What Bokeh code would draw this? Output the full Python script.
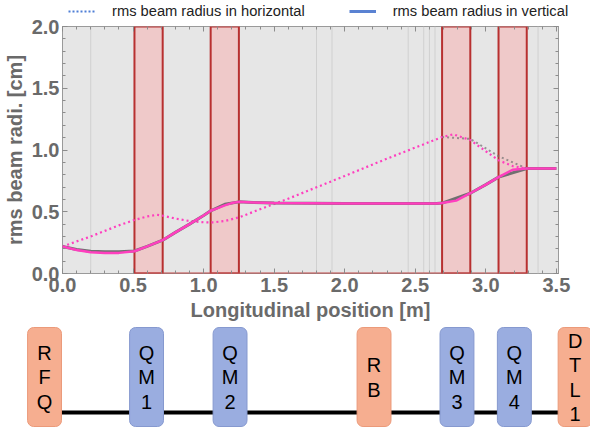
import numpy as np
from bokeh.plotting import figure
from bokeh.models import Range1d, LinearAxis, Legend, LegendItem, FixedTicker, ColumnDataSource
from bokeh.core.properties import value
from bokeh.layouts import column, row
from bokeh.embed import file_html
from bokeh.resources import INLINE

# ---------------- data ----------------
# rms beam radius in vertical (solid, pink)
x_v = [0.0, 0.1, 0.2, 0.3, 0.4, 0.51, 0.6, 0.71, 0.8, 0.9, 1.0, 1.05, 1.1, 1.15, 1.2, 1.25, 1.35, 1.5,
       2.0, 2.5, 2.65, 2.69, 2.79, 2.89, 3.0, 3.09, 3.19, 3.29, 3.5]
y_v = [0.218, 0.19, 0.172, 0.166, 0.167, 0.18, 0.22, 0.27, 0.333, 0.40, 0.47, 0.508, 0.53, 0.552, 0.57,
       0.58, 0.575, 0.57, 0.567, 0.567, 0.567, 0.57, 0.59, 0.65, 0.72, 0.78, 0.84, 0.85, 0.85]
# underlying grey curve (solid)
x_g = [0.0, 0.1, 0.2, 0.3, 0.4, 0.51, 0.6, 0.71, 0.8, 0.9, 1.0, 1.05, 1.15, 1.25, 1.35, 1.5,
       2.0, 2.5, 2.65, 2.69, 2.89, 3.0, 3.09, 3.29, 3.5]
y_g = [0.218, 0.195, 0.18, 0.176, 0.176, 0.182, 0.22, 0.27, 0.333, 0.40, 0.47, 0.508, 0.56, 0.58,
       0.575, 0.57, 0.567, 0.567, 0.567, 0.57, 0.65, 0.72, 0.78, 0.85, 0.85]
# rms beam radius in horizontal (dotted, pink)
x_h = [0.0, 0.1, 0.2, 0.3, 0.4, 0.51, 0.6, 0.67, 0.71, 0.8, 0.9, 1.0, 1.07, 1.15, 1.25, 1.4, 1.62,
       2.0, 2.3, 2.69, 2.77, 2.89, 3.0, 3.09, 3.19, 3.29]
y_h = [0.218, 0.26, 0.30, 0.345, 0.39, 0.433, 0.462, 0.476, 0.468, 0.445, 0.425, 0.415, 0.414, 0.425,
       0.454, 0.52, 0.615, 0.79, 0.93, 1.105, 1.127, 1.08, 0.99, 0.917, 0.87, 0.85]
# underlying grey dotted curve
x_hg = [2.69, 2.89, 3.09, 3.29]
y_hg = [1.105, 1.09, 0.95, 0.85]

# quadrupole regions (red boxes)
box_left = [0.51, 1.05, 2.69, 3.09]
box_right = [0.71, 1.25, 2.89, 3.29]
# faint vertical lines
vlines = [0.2, 1.8, 1.91, 2.45, 2.56, 2.60, 2.64, 3.37]

x_ticks = [0.0, 0.5, 1.0, 1.5, 2.0, 2.5, 3.0, 3.5]
y_ticks = [0.0, 0.5, 1.0, 1.5, 2.0]

# beamline schematic
elem_labels = ["R\nF\nQ", "Q\nM\n1", "Q\nM\n2", "R\nB", "Q\nM\n3", "Q\nM\n4", "D\nT\nL\n1"]
elem_center = [-0.125, 0.597, 1.188, 2.207, 2.794, 3.200, 3.630]
elem_kind = ["cav", "quad", "quad", "cav", "quad", "quad", "cav"]

FONT = "Liberation Sans"
PINK = "#ff3fbf"
GREY = "#707070"

# ---------------- legend strip ----------------
lf = figure(width=590, height=19, x_range=Range1d(0, 1), y_range=Range1d(0, 1),
            output_backend="svg", toolbar_location=None, min_border=0)
lf.axis.visible = False
lf.xgrid.visible = False
lf.ygrid.visible = False
lf.outline_line_color = None
lf.background_fill_color = "white"
hidden = ColumnDataSource(data=dict(x=[-10, -9], y=[-10, -9]))
r_h = lf.line("x", "y", source=hidden, line_color="#4f7fd6", line_width=2, line_dash="2 2")
r_v = lf.line("x", "y", source=hidden, line_color="#5a82d2", line_width=3)
legend = Legend(items=[LegendItem(label="rms beam radius in horizontal", renderers=[r_h]),
                       LegendItem(label="rms beam radius in vertical", renderers=[r_v])],
                orientation="horizontal", location=(68, 0), padding=0, margin=0, spacing=44,
                glyph_width=27, glyph_height=12, label_height=12, label_standoff=17,
                background_fill_alpha=0, border_line_alpha=0,
                label_text_font=FONT, label_text_font_size="14.7px", label_text_color="#222222")
lf.add_layout(legend)

# ---------------- main plot ----------------
p = figure(width=590, height=307, x_range=Range1d(0, 3.515), y_range=Range1d(0, 2),
           output_backend="svg", toolbar_location=None,
           min_border_left=62, min_border_right=32, min_border_top=7, min_border_bottom=53)
p.xgrid.visible = False
p.ygrid.visible = False
p.background_fill_color = "#e6e6e6"
p.border_fill_color = "white"
p.outline_line_color = "#9a9a9a"
p.outline_line_width = 1

p.segment(x0=vlines, y0=0, x1=vlines, y1=2, line_color="#d0d0d0", line_width=1)
p.quad(left=box_left, right=box_right, bottom=0, top=2, fill_color="#efc9c9",
       line_color="#b83030", line_width=2)
p.segment(x0=[box_left[0]], y0=[0], x1=[box_right[-1]], y1=[0], line_color="#c04848", line_width=2)

p.line(x_hg, y_hg, line_color=GREY, line_width=2, line_dash="2 3", alpha=0.7)
p.line(x_h, y_h, line_color=PINK, line_width=2.2, line_dash="2 3")
p.line(x_g, y_g, line_color=GREY, line_width=3)
p.line(x_v, y_v, line_color=PINK, line_width=2.5)

minor_x = [round(v, 2) for v in np.arange(0, 3.51, 0.1)]
minor_y = [round(v, 2) for v in np.arange(0, 2.01, 0.1)]


def style_axis(ax, labels=True):
    ax.axis_line_color = None
    ax.major_tick_in = 5
    ax.major_tick_out = 0
    ax.minor_tick_in = 3
    ax.minor_tick_out = 0
    ax.major_tick_line_color = "#8c8c8c"
    ax.minor_tick_line_color = "#8c8c8c"
    if labels:
        ax.major_label_text_font = FONT
        ax.major_label_text_font_style = "bold"
        ax.major_label_text_font_size = "20px"
        ax.major_label_text_color = "#6a6a6a"
        ax.axis_label_text_font = FONT
        ax.axis_label_text_font_style = "bold"
        ax.axis_label_text_font_size = "20px"
        ax.axis_label_text_color = "#6a6a6a"
    else:
        ax.major_label_text_font_size = "0px"
        ax.major_label_standoff = 0


p.xaxis.ticker = FixedTicker(ticks=x_ticks, minor_ticks=minor_x)
p.yaxis.ticker = FixedTicker(ticks=y_ticks, minor_ticks=minor_y)
style_axis(p.xaxis[0])
style_axis(p.yaxis[0])
p.xaxis.axis_label = "Longitudinal position [m]"
p.yaxis.axis_label = "rms beam radi. [cm]"
p.xaxis.major_label_standoff = 4
p.xaxis.axis_label_standoff = 4
p.yaxis.major_label_standoff = 3
p.yaxis.axis_label_standoff = 3
p.xaxis.major_label_overrides = {v: f"{v:.1f}" for v in x_ticks}
p.yaxis.major_label_overrides = {v: f"{v:.1f}" for v in y_ticks}

top_ax = LinearAxis(ticker=FixedTicker(ticks=x_ticks, minor_ticks=minor_x))
style_axis(top_ax, labels=False)
p.add_layout(top_ax, "above")
right_ax = LinearAxis(ticker=FixedTicker(ticks=y_ticks, minor_ticks=minor_y))
style_axis(right_ax, labels=False)
p.add_layout(right_ax, "right")

# ---------------- schematic ----------------
s = figure(width=590, height=101, x_range=Range1d(-0.4367, 3.739), y_range=Range1d(0, 101),
           output_backend="svg", toolbar_location=None, min_border=0)
s.axis.visible = False
s.xgrid.visible = False
s.ygrid.visible = False
s.outline_line_color = None
s.background_fill_color = "white"

s.segment(x0=[elem_center[0]], y0=[15], x1=[elem_center[-1]], y1=[15], line_color="black", line_width=4)

HALF = 0.12
fill = ["#f6ae90" if k == "cav" else "#9aade0" for k in elem_kind]
edge = ["#eb9a7a" if k == "cav" else "#8699cf" for k in elem_kind]
src = ColumnDataSource(data=dict(
    left=[c - HALF for c in elem_center], right=[c + HALF for c in elem_center],
    fill=fill, edge=edge, x=elem_center, label=elem_labels))
s.quad(left="left", right="right", bottom=1, top=100, fill_color="fill", line_color="edge",
       line_width=1, border_radius=6, source=src)
s.text(x="x", y=50, text="label", source=src, text_align="center", text_baseline="middle",
       text_font=value(FONT), text_font_size="20px", text_color="black", text_line_height=1.12)

layout = column(row(lf), p, row(s), spacing=0)
open("out.html", "w").write(file_html(layout, INLINE))
